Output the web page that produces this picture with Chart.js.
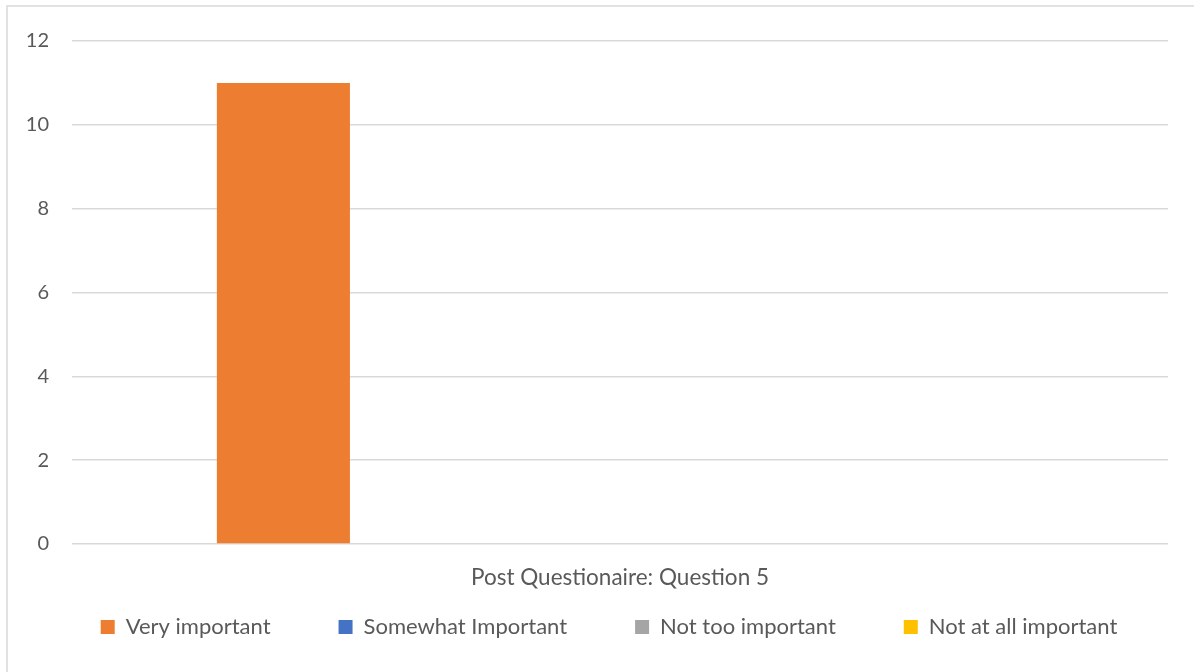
<!DOCTYPE html>
<html>
<head>
<meta charset="utf-8">
<script src="https://cdn.jsdelivr.net/npm/chart.js@4/dist/chart.umd.min.js"></script>
<style>
  html, body { margin: 0; padding: 0; background: #fff; }
  #wrap { position: absolute; left: 0; top: 0; width: 1194px; height: 672px; }
</style>
</head>
<body>
<div id="wrap"><canvas id="chart"></canvas></div>
<script>
const categories = ['Post Questionaire: Question 5']
const seriesNames = ['Very important', 'Somewhat Important', 'Not too important', 'Not at all important']
const seriesValues = [[11], [0], [0], [0]]
const seriesColors = ['#ED7D31', '#4472C4', '#A5A5A5', '#FFC000']
const yTicks = [0, 2, 4, 6, 8, 10, 12]

const textColor = '#595959'
const fontFamily = 'Lato, "Open Sans", sans-serif'
const legendGap = 68

// light frame round the whole chart
const framePlugin = {
    id: 'frame',
    beforeDraw(chart) {
        const ctx = chart.ctx
        ctx.save()
        ctx.strokeStyle = '#d9d9d9'
        ctx.lineWidth = 1.5
        ctx.strokeRect(7, 6, 1194, 680)
        ctx.restore()
    }
}

// legend padding is used for both directions, keep the wide gap only between items
const legendSpacing = {
    id: 'legendSpacing',
    beforeInit(chart) {
        const legend = chart.legend
        const fit = legend.fit
        legend.fit = function () {
            const mw = this.maxWidth
            this.maxWidth = 3000
            fit.call(this)
            this.maxWidth = mw
            this.width = mw
            this.height = 59
        }
    },
    afterLayout(chart) {
        const legend = chart.legend
        legend.top -= 55
        legend.left = 0
        legend.right = 1218
    }
}

const datasets = seriesNames.map((name, i) => ({
    label: name,
    data: seriesValues[i],
    backgroundColor: seriesColors[i],
    categoryPercentage: 0.819,
    barPercentage: 0.593
}))

new Chart('chart', {
    type: 'bar',
    data: { labels: categories, datasets: datasets },
    plugins: [framePlugin, legendSpacing],
    options: {
        responsive: true,
        maintainAspectRatio: false,
        animation: false,
        layout: { padding: { left: 27, right: 26, top: 41, bottom: 10 } },
        plugins: {
            tooltip: { enabled: false },
            legend: {
                position: 'bottom',
                labels: {
                    color: textColor,
                    font: { family: fontFamily, size: 22 },
                    boxWidth: 14,
                    boxHeight: 14,
                    padding: legendGap
                }
            }
        },
        scales: {
            x: {
                grid: { display: false },
                border: { display: false },
                ticks: { color: textColor, font: { family: fontFamily, size: 22.5 }, padding: 12 }
            },
            y: {
                min: 0,
                max: 12,
                afterBuildTicks(axis) { axis.ticks = yTicks.map(v => ({ value: v })) },
                afterFit(axis) { axis.width = 45 },
                grid: { color: '#d9d9d9', lineWidth: 1.5, drawTicks: false },
                border: { display: false },
                ticks: { color: textColor, font: { family: fontFamily, size: 20 }, padding: 23 }
            }
        }
    }
})
</script>
</body>
</html>
